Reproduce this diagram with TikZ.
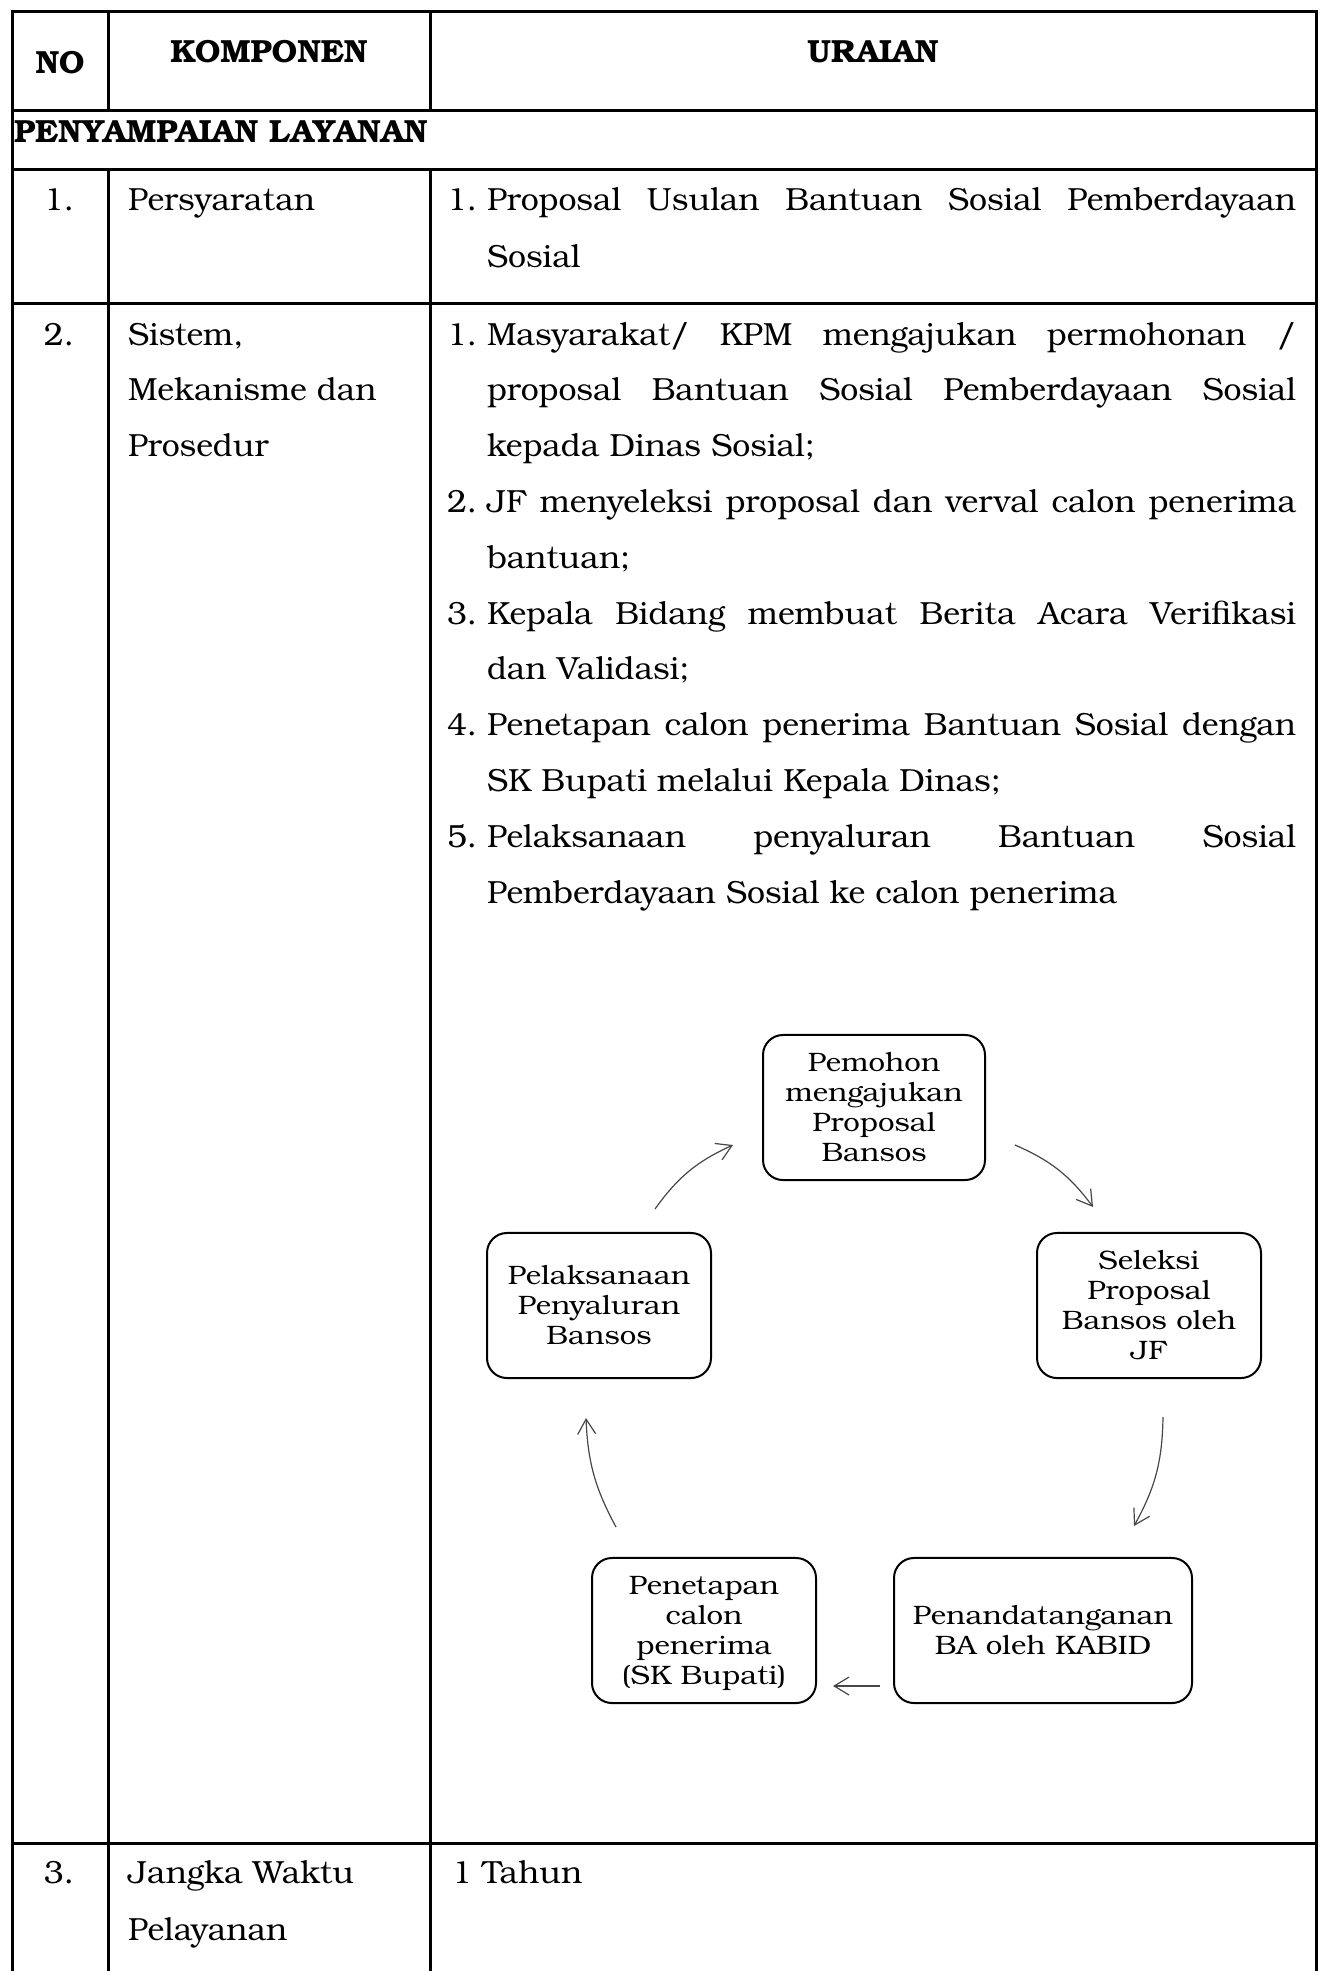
\documentclass[tikz,border=0pt]{standalone}
\usepackage{fontspec}
\usepackage{graphicx}
\setmainfont{texgyrebonum}[Extension=.otf, UprightFont=*-regular, BoldFont=*-bold, ItalicFont=*-italic, BoldItalicFont=*-bolditalic]
\usetikzlibrary{arrows.meta}
\newlength\jw
\setlength\jw{303.4bp}
\newcommand\jl[1]{\makebox[\jw][s]{#1}}
\newcommand\btxt[1]{\raisebox{-1.1bp}[\height][\depth]{\scalebox{1.1}[1]{\fontsize{10bp}{11.3bp}\selectfont\begin{tabular}{@{}c@{}}#1\end{tabular}}}}
\begin{document}
\begin{tikzpicture}[x=0.375bp, y=-0.375bp,
  every node/.style={inner sep=0pt, outer sep=0pt},
  txt/.style={anchor=base west, font=\fontsize{12bp}{14bp}\selectfont},
  num/.style={anchor=base, font=\fontsize{12bp}{14bp}\selectfont},
  hdr/.style={anchor=base, font=\fontsize{12bp}{14bp}\selectfont\bfseries},
  grid/.style={line width=1.125bp, line cap=rect},
  flow/.style={draw, line width=0.75bp, rounded corners=7.5bp, minimum height=54.4bp, minimum width=84bp},
  conn/.style={draw=black!72, line width=0.45bp, -{Straight Barb[length=5.6bp,width=6.75bp]}},
]
\useasboundingbox (0,0) rectangle (1321,1971);
\fill[white] (0,0) rectangle (1321,1971);
% table rules
\draw[grid] (12,11) -- (1316.5,11);
\draw[grid] (12,11) -- (12,1975);
\draw[grid] (1316.5,11) -- (1316.5,1975);
\draw[grid] (12,110) -- (1316.5,110);
\draw[grid] (12,169) -- (1316.5,169);
\draw[grid] (12,303) -- (1316.5,303);
\draw[grid] (12,1843) -- (1316.5,1843);
\draw[grid] (108,11) -- (108,110);
\draw[grid] (430,11) -- (430,110);
\draw[grid] (108,169) -- (108,1975);
\draw[grid] (430,169) -- (430,1975);
% header
\node[hdr] (hno) at (60,73) {NO};
\node[hdr] (hkomp) at (269,62) {KOMPONEN};
\node[hdr] (hur) at (873,62) {URAIAN};
\node[txt, font=\fontsize{12bp}{14bp}\selectfont\bfseries] (sect) at (14,142) {PENYAMPAIAN LAYANAN};
% row 1
\node[num] (n1) at (59,210) {1.};
\node[txt] (k1) at (128,210) {Persyaratan};
\node[txt] (u1n) at (447,210) {1.};
\node[txt] (u1a) at (487,210) {\jl{Proposal Usulan Bantuan Sosial Pemberdayaan}};
\node[txt] (u1b) at (487,267) {Sosial};
% row 2
\node[num] (n2) at (59,345) {2.};
\node[txt] (k2a) at (128,345) {Sistem,};
\node[txt] (k2b) at (128,400.8) {Mekanisme dan};
\node[txt] (k2c) at (128,456.6) {Prosedur};
\node[txt] (s1n) at (447,345) {1.};
\node[txt] (s1a) at (487,345) {\jl{Masyarakat/ KPM mengajukan permohonan /}};
\node[txt] (s1b) at (487,400.8) {\jl{proposal Bantuan Sosial Pemberdayaan Sosial}};
\node[txt] (s1c) at (487,456.6) {kepada Dinas Sosial;};
\node[txt] (s2n) at (447,512.4) {2.};
\node[txt] (s2a) at (487,512.4) {\jl{JF menyeleksi proposal dan verval calon penerima}};
\node[txt] (s2b) at (487,568.2) {bantuan;};
\node[txt] (s3n) at (447,624) {3.};
\node[txt] (s3a) at (487,624) {\jl{Kepala Bidang membuat Berita Acara Verifikasi}};
\node[txt] (s3b) at (487,679.8) {dan Validasi;};
\node[txt] (s4n) at (447,735.6) {4.};
\node[txt] (s4a) at (487,735.6) {\jl{Penetapan calon penerima Bantuan Sosial dengan}};
\node[txt] (s4b) at (487,791.4) {SK Bupati melalui Kepala Dinas;};
\node[txt] (s5n) at (447,847.2) {5.};
\node[txt] (s5a) at (487,847.2) {\jl{Pelaksanaan penyaluran Bantuan Sosial}};
\node[txt] (s5b) at (487,903) {Pemberdayaan Sosial ke calon penerima};
% flow diagram
\node[flow, minimum width=83.25bp] (pemohon) at (874,1107.5) {\btxt{Pemohon\\mengajukan\\Proposal\\Bansos}};
\node[flow] (pelaks) at (599,1305.5) {\btxt{Pelaksanaan\\Penyaluran\\Bansos}};
\node[flow] (seleksi) at (1149,1305.5) {\btxt{Seleksi\\Proposal\\Bansos oleh\\JF}};
\node[flow] (penetapan) at (704,1630.5) {\btxt{Penetapan\\calon\\penerima\\(SK Bupati)}};
\node[flow, minimum width=111.75bp] (penanda) at (1043,1630.5) {\btxt{Penandatanganan\\BA oleh KABID}};
\coordinate (a1s) at (655,1209);
\coordinate (a1e) at (733,1145);
\coordinate (a2s) at (1015,1145);
\coordinate (a2e) at (1093,1207);
\coordinate (a3s) at (1163,1417);
\coordinate (a3e) at (1134,1526);
\coordinate (a4s) at (880,1686);
\coordinate (a4e) at (833,1686);
\coordinate (a5s) at (616,1527);
\coordinate (a5e) at (586,1418);
\draw[conn] (a1s) to[bend left=15] (a1e);
\draw[conn] (a2s) to[bend left=15] (a2e);
\draw[conn] (a3s) to[bend left=14] (a3e);
\draw[conn] (a4s) -- (a4e);
\draw[conn] (a5s) to[bend left=13] (a5e);
% row 3
\node[num] (n3) at (59,1883) {3.};
\node[txt] (k3a) at (128,1883) {Jangka Waktu};
\node[txt] (k3b) at (128,1940) {Pelayanan};
\node[txt] (u3) at (452,1883) {1 Tahun};
\end{tikzpicture}
\end{document}
